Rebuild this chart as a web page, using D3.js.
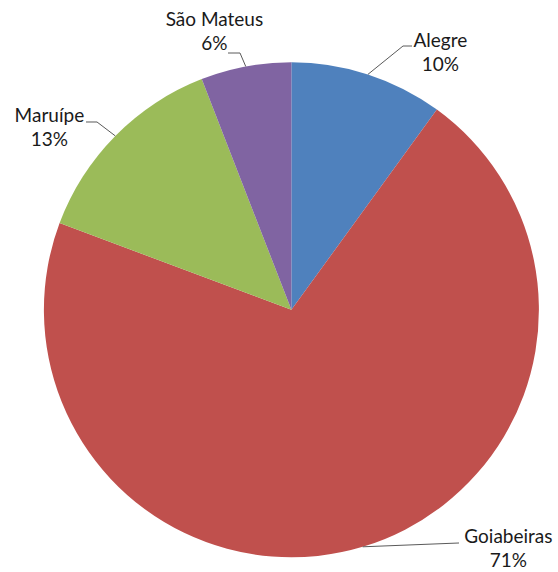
<!DOCTYPE html>
<html>
<head>
<meta charset="utf-8">
<script src="https://cdn.jsdelivr.net/npm/d3@7"></script>
<style>
  body { margin: 0; background: #fff; }
  .label { font-family: Lato, "Open Sans", sans-serif; font-size: 19px; fill: #1a1a1a; }
</style>
</head>
<body>
<script>
// Chart data (percent share per campus)
const campuses = ["Alegre", "Goiabeiras", "Maruípe", "São Mateus"];
const shares = [10.0, 70.7, 13.4, 5.9];
const colors = ["#4F81BD", "#C0504D", "#9BBB59", "#8064A2"];

// label placement relative to the pie centre, and the leader's elbow / end
const labelLayout = {
  "Alegre":     { x: 149, y: -263, elbowX: 111.6, endX: 120.6, lineY: -263.8 },
  "Goiabeiras": { x: 217, y: 233,  elbowX: 167.6, endX: 167.6, lineY: 233.2 },
  "Maruípe":    { x: -242, y: -188, elbowX: -194.4, endX: -205.4, lineY: -187.8 },
  "São Mateus": { x: -77, y: -284, elbowX: -51.4, endX: -63.4, lineY: -256.8 }
};

const w = 558, h = 572;
const cx = 291.4, cy = 309.8, radius = 247.5;

const svg = d3.select("body")
  .append("svg")
  .attr("width", w)
  .attr("height", h);

const g = svg.append("g")
  .attr("transform", `translate(${cx}, ${cy})`);

const pie = d3.pie().sort(null).value(d => d.value);
const arcs = pie(campuses.map((c, i) => ({ name: c, value: shares[i], color: colors[i] })));
const total = d3.sum(shares);

const arc = d3.arc().innerRadius(0).outerRadius(radius);
const edge = d3.arc().innerRadius(radius).outerRadius(radius);

g.selectAll("path.slice")
  .data(arcs)
  .enter()
  .append("path")
  .attr("class", "slice")
  .attr("d", arc)
  .attr("fill", d => d.data.color);

// leader lines: slice edge -> elbow -> short horizontal run to the label
g.selectAll("polyline")
  .data(arcs)
  .enter()
  .append("polyline")
  .attr("points", d => {
    const p = edge.centroid(d);
    const L = labelLayout[d.data.name];
    return [p, [L.elbowX, L.lineY], [L.endX, L.lineY]].map(q => q.join(",")).join(" ");
  })
  .attr("fill", "none")
  .attr("stroke", "#5a5a5a")
  .attr("stroke-width", 1);

const labels = g.selectAll("text.label")
  .data(arcs)
  .enter()
  .append("text")
  .attr("class", "label")
  .attr("text-anchor", "middle")
  .attr("x", d => labelLayout[d.data.name].x)
  .attr("y", d => labelLayout[d.data.name].y);

labels.append("tspan")
  .text(d => d.data.name);

labels.append("tspan")
  .attr("x", d => labelLayout[d.data.name].x)
  .attr("dy", 24.5)
  .text(d => Math.round(d.data.value / total * 100) + "%");
</script>
</body>
</html>
